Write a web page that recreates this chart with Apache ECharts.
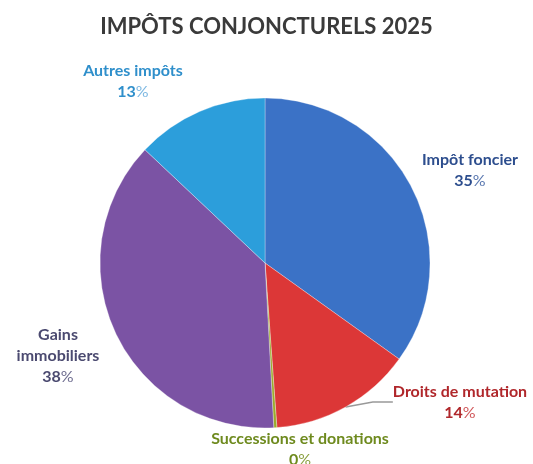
<!DOCTYPE html>
<html>
<head>
<meta charset="utf-8">
<script src="https://cdn.jsdelivr.net/npm/echarts@6/dist/echarts.min.js"></script>
<style>html,body{margin:0;padding:0;background:#fff;}#c{width:533px;height:464px;}</style>
</head>
<body>
<div id="c"></div>
<script>
const categories = ['Impôt foncier', 'Droits de mutation', 'Successions et donations', 'Gains immobiliers', 'Autres impôts'];
const displayNames = ['Impôt foncier', 'Droits de mutation', 'Successions et donations', 'Gains\nimmobiliers', 'Autres impôts'];
const values = [35, 14, 0.3, 38, 13];

const sliceColors = ['#3B72C6', '#DC3737', '#9BAA2C', '#7B53A4', '#2C9EDB'];
const labelColors = ['#2D4E8E', '#B0272B', '#6E8A1E', '#4B4A70', '#2F8FCB'];
const pctLight = ['#5A78B0', '#D0575A', '#8AA040', '#6E6D90', '#7DB8E2'];
const labelPos = [[470, 170], [460, 402], [300, 449], [58, 356], [133, 81]];

const total = values.reduce((a, b) => a + b, 0);
const chart = echarts.init(document.getElementById('c'));
chart.setOption({
  backgroundColor: '#fff',
  title: {
    text: 'IMPÔTS CONJONCTURELS 2025',
    left: 'center',
    top: 11,
    textStyle: { fontFamily: 'Lato', fontWeight: 'bold', fontSize: 22, color: '#3a3a3a' }
  },
  series: [{
    type: 'pie',
    center: [265, 263],
    radius: 165,
    startAngle: 90,
    clockwise: true,
    animation: false,
    itemStyle: { borderColor: 'rgba(255,255,255,0.6)', borderWidth: 0.5 },
    labelLine: { show: false },
    labelLayout: function (p) {
      const pos = labelPos[p.dataIndex];
      return { x: pos[0], y: pos[1], align: 'center', verticalAlign: 'middle' };
    },
    data: categories.map((c, i) => ({
      name: c,
      value: values[i],
      itemStyle: { color: sliceColors[i] },
      labelLine: i === 1 ? { show: true, length: 10, length2: 20, lineStyle: { color: '#999', width: 1.5 } } : { show: false },
      label: {
        show: true,
        overflow: 'none',
        width: 300,
        formatter: function () {
          return '{n|' + displayNames[i] + '}\n{v|' + Math.round(values[i] / total * 100) + '}{p|%}';
        },
        rich: {
          n: { fontFamily: 'Lato', fontWeight: 'bold', fontSize: 16, color: labelColors[i], lineHeight: 21, align: 'center' },
          v: { fontFamily: 'Lato', fontWeight: 'bold', fontSize: 16, color: labelColors[i], lineHeight: 21 },
          p: { fontFamily: 'Lato', fontWeight: 'normal', fontSize: 16, color: pctLight[i], lineHeight: 21 }
        }
      }
    }))
  }]
});
</script>
</body>
</html>
